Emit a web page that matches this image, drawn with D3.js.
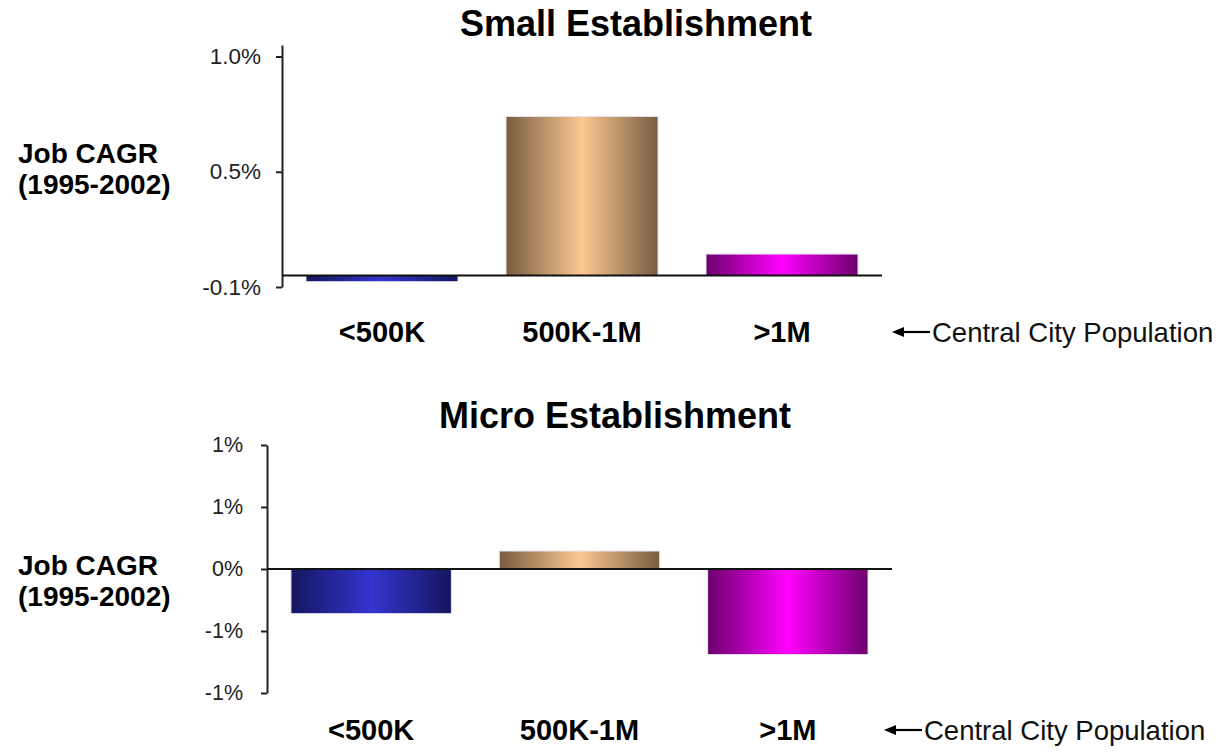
<!DOCTYPE html>
<html>
<head>
<meta charset="utf-8">
<script src="https://cdn.jsdelivr.net/npm/d3@7"></script>
<style>
  html, body { margin: 0; padding: 0; background: #ffffff; }
  svg { display: block; }
  text { font-family: Arial, "Liberation Sans", sans-serif; }
</style>
</head>
<body>
<svg id="chart" width="1228" height="755"></svg>
<script>
// ---- data ----
const categories = ["<500K", "500K-1M", ">1M"];
const smallValues = [-0.00027, 0.0069, 0.00093];
const microValues = [-0.0036, 0.00145, -0.0069];
const smallTicks = [-0.0005, 0.0045, 0.0095];
const smallTickLabels = ["-0.1%", "0.5%", "1.0%"];
const microTicks = [0.01, 0.005, 0, -0.005, -0.01];
const microTickLabels = ["1%", "1%", "0%", "-1%", "-1%"];
const panelTitles = ["Small Establishment", "Micro Establishment"];
const yTitleLines = ["Job CAGR", "(1995-2002)"];
const xNote = "Central City Population";

// ---- styles ----
const barColors = [
  { dark: "#14165e", light: "#3434d0" },
  { dark: "#785c40", light: "#fcc892" },
  { dark: "#6c006c", light: "#ff00ff" }
];

const svg = d3.select("#chart");
const defs = svg.append("defs");
barColors.forEach((c, i) => {
  const g = defs.append("linearGradient").attr("id", "grad" + i)
    .attr("x1", "0%").attr("x2", "100%").attr("y1", "0%").attr("y2", "0%");
  g.append("stop").attr("offset", "0%").attr("stop-color", c.dark);
  g.append("stop").attr("offset", "50%").attr("stop-color", c.light);
  g.append("stop").attr("offset", "100%").attr("stop-color", c.dark);
});

function drawPanel(cfg) {
  const g = svg.append("g");
  const x = d3.scaleBand().domain(categories).range([cfg.x0, cfg.x1])
    .paddingInner(cfg.pad).paddingOuter(cfg.pad / 2);
  const y = d3.scaleLinear().domain(cfg.domain).range([cfg.yBottom, cfg.yTop]);

  // title
  g.append("text").attr("x", cfg.titleX).attr("y", cfg.titleY)
    .attr("text-anchor", "middle").attr("font-size", 36).attr("font-weight", "bold")
    .attr("fill", "#000").text(cfg.title);

  // y-axis title
  yTitleLines.forEach((t, i) => {
    g.append("text").attr("x", 18).attr("y", cfg.yTitleY + i * 31)
      .attr("font-size", 28).attr("font-weight", "bold").attr("fill", "#000").text(t);
  });

  // bars
  g.selectAll("rect.bar").data(cfg.values).enter().append("rect")
    .attr("class", "bar")
    .attr("x", (d, i) => x(categories[i]))
    .attr("width", x.bandwidth())
    .attr("y", d => y(Math.max(0, d)))
    .attr("height", d => Math.abs(y(d) - y(0)))
    .attr("fill", (d, i) => "url(#grad" + i + ")")
    .attr("stroke", "#e4e4ee").attr("stroke-width", 1);

  // y axis
  const axis = d3.axisLeft(y).tickValues(cfg.ticks)
    .tickFormat((d, i) => cfg.tickLabels[i])
    .tickSize(6).tickSizeOuter(0).tickPadding(cfg.tickPad);
  const ag = g.append("g").attr("transform", `translate(${cfg.x0},0)`).call(axis);
  ag.select(".domain").attr("stroke", "#222").attr("stroke-width", 2);
  ag.selectAll(".tick line").attr("stroke", "#222").attr("stroke-width", 2);
  ag.selectAll(".tick text").attr("font-size", cfg.tickFont).attr("fill", "#222")
    .attr("font-family", 'Arial, "Liberation Sans", sans-serif');

  // zero baseline
  g.append("line").attr("x1", cfg.x0).attr("x2", cfg.x1)
    .attr("y1", y(0)).attr("y2", y(0))
    .attr("stroke", "#111").attr("stroke-width", 2);

  // category labels
  g.selectAll("text.cat").data(categories).enter().append("text")
    .attr("class", "cat")
    .attr("x", d => x(d) + x.bandwidth() / 2)
    .attr("y", cfg.catY)
    .attr("text-anchor", "middle").attr("font-size", 29).attr("font-weight", "bold")
    .attr("fill", "#000").text(d => d);

  // arrow note
  const ay = cfg.catY - 10;
  g.append("line").attr("x1", cfg.arrowX + 8).attr("x2", cfg.arrowX + 38)
    .attr("y1", ay).attr("y2", ay).attr("stroke", "#000").attr("stroke-width", 2.2);
  g.append("path")
    .attr("d", `M${cfg.arrowX},${ay} L${cfg.arrowX + 12},${ay - 5} L${cfg.arrowX + 12},${ay + 5} Z`)
    .attr("fill", "#000");
  g.append("text").attr("x", cfg.arrowX + 40).attr("y", cfg.catY)
    .attr("font-size", 27.5).attr("fill", "#111").text(xNote);
}

drawPanel({
  title: panelTitles[0], titleX: 636, titleY: 36,
  yTitleY: 163,
  values: smallValues, ticks: smallTicks, tickLabels: smallTickLabels,
  domain: [-0.0005, 0.01], yBottom: 287, yTop: 45,
  x0: 282, x1: 882, pad: 0.24, tickPad: 15, tickFont: 22.5,
  catY: 342, arrowX: 892
});

drawPanel({
  title: panelTitles[1], titleX: 615, titleY: 428,
  yTitleY: 575,
  values: microValues, ticks: microTicks, tickLabels: microTickLabels,
  domain: [-0.01, 0.01], yBottom: 693, yTop: 445,
  x0: 267, x1: 892, pad: 0.23, tickPad: 18, tickFont: 21.5,
  catY: 740, arrowX: 884
});
</script>
</body>
</html>
